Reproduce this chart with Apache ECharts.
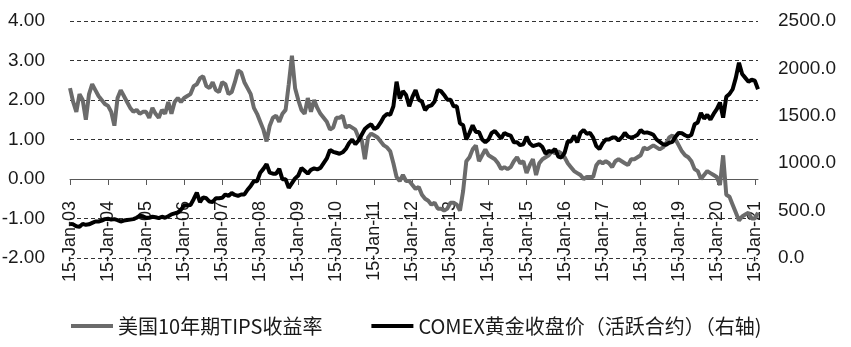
<!DOCTYPE html>
<html>
<head>
<meta charset="utf-8">
<script src="https://cdn.jsdelivr.net/npm/echarts@6/dist/echarts.min.js"></script>
<style>
  html, body { margin: 0; padding: 0; background: #fff; }
  #chart { width: 851px; height: 347px; }
</style>
</head>
<body>
<div id="chart"></div>
<script>
// 月度数据，2003-01 ~ 2021-02
const years = [2003, 2004, 2005, 2006, 2007, 2008, 2009, 2010, 2011, 2012, 2013, 2014, 2015, 2016, 2017, 2018, 2019, 2020, 2021]
const monthNames = ['Jan', 'Feb', 'Mar', 'Apr', 'May', 'Jun', 'Jul', 'Aug', 'Sep', 'Oct', 'Nov', 'Dec']

// 美国10年期TIPS收益率 (%)
const tipsYield = [
  2.30, 1.95, 1.70, 2.15, 2.00, 1.50, 2.15, 2.40, 2.25, 2.10, 2.00, 1.90,
  1.85, 1.70, 1.35, 2.05, 2.25, 2.10, 1.95, 1.80, 1.70, 1.75, 1.65, 1.70,
  1.70, 1.55, 1.80, 1.65, 1.55, 1.75, 1.65, 1.95, 1.65, 1.95, 2.05, 1.95,
  2.05, 2.10, 2.15, 2.35, 2.40, 2.55, 2.60, 2.35, 2.30, 2.45, 2.25, 2.20,
  2.45, 2.40, 2.15, 2.20, 2.45, 2.75, 2.70, 2.45, 2.30, 2.15, 1.80, 1.65,
  1.45, 1.25, 0.95, 1.35, 1.55, 1.60, 1.45, 1.65, 1.75, 2.40, 3.12, 2.30,
  2.00, 1.75, 1.65, 2.05, 1.70, 2.00, 1.80, 1.65, 1.55, 1.45, 1.25, 1.30,
  1.55, 1.55, 1.60, 1.30, 1.35, 1.30, 1.25, 1.05, 1.00, 0.50, 1.05, 1.15,
  1.10, 1.05, 0.95, 0.85, 0.80, 0.70, 0.40, 0.05, -0.05, 0.10, -0.05, -0.05,
  -0.15, -0.25, -0.20, -0.40, -0.50, -0.55, -0.65, -0.60, -0.75, -0.75, -0.80, -0.75,
  -0.60, -0.60, -0.65, -0.80, -0.30, 0.45, 0.55, 0.75, 0.85, 0.45, 0.60, 0.75,
  0.60, 0.55, 0.50, 0.40, 0.25, 0.30, 0.25, 0.30, 0.45, 0.55, 0.40, 0.45,
  0.15, 0.35, 0.50, 0.10, 0.40, 0.50, 0.55, 0.60, 0.70, 0.65, 0.70, 0.65,
  0.55, 0.40, 0.30, 0.20, 0.15, 0.10, 0.00, 0.05, 0.05, 0.05, 0.35, 0.45,
  0.40, 0.45, 0.40, 0.30, 0.45, 0.50, 0.45, 0.40, 0.35, 0.50, 0.50, 0.55,
  0.60, 0.80, 0.75, 0.80, 0.85, 0.80, 0.75, 0.80, 0.90, 1.05, 1.10, 1.00,
  0.85, 0.70, 0.60, 0.55, 0.45, 0.25, 0.20, 0.00, 0.10, 0.20, 0.15, 0.10,
  0.05, -0.15, 0.60, -0.40, -0.45, -0.65, -0.85, -1.05, -0.95, -0.90, -0.85, -1.00,
  -1.00, -0.85
]

// COMEX黄金收盘价（活跃合约），右轴
const goldPrice = [
  360, 355, 335, 330, 360, 350, 355, 370, 385, 385, 395, 410,
  415, 405, 410, 400, 385, 395, 400, 405, 410, 425, 445, 440,
  425, 425, 435, 430, 420, 435, 425, 440, 460, 470, 480, 510,
  555, 555, 560, 620, 690, 590, 640, 630, 595, 590, 630, 630,
  635, 670, 655, 685, 665, 655, 670, 670, 720, 760, 810, 810,
  900, 940, 990, 900, 890, 890, 940, 830, 830, 740, 790, 840,
  870, 950, 920, 890, 930, 945, 935, 950, 1000, 1050, 1140, 1120,
  1110, 1100, 1115, 1150, 1210, 1250, 1200, 1240, 1300, 1360, 1390, 1410,
  1360, 1380, 1430, 1490, 1520, 1510, 1600, 1860, 1680, 1760, 1720, 1600,
  1700, 1770, 1670, 1650, 1560, 1600, 1610, 1650, 1770, 1760, 1720, 1670,
  1670, 1600, 1600, 1420, 1400, 1250, 1320, 1400, 1330, 1330, 1250, 1220,
  1250, 1320, 1340, 1300, 1260, 1320, 1300, 1290, 1220, 1220, 1190, 1200,
  1280, 1210, 1180, 1190, 1200, 1170, 1100, 1130, 1120, 1150, 1070, 1060,
  1110, 1230, 1230, 1290, 1220, 1320, 1350, 1310, 1320, 1270, 1180, 1150,
  1210, 1250, 1250, 1270, 1270, 1240, 1270, 1320, 1280, 1270, 1280, 1300,
  1350, 1320, 1325, 1315, 1300, 1250, 1225, 1200, 1195, 1215, 1225, 1280,
  1320, 1315, 1295, 1280, 1300, 1410, 1430, 1530, 1470, 1510, 1460, 1520,
  1570, 1640, 1480, 1700, 1730, 1780, 1900, 2060, 1940, 1900, 1860, 1880,
  1870, 1780
]

const leftTicks = { min: -2, max: 4, step: 1 }
const rightTicks = { min: 0, max: 2500, step: 500 }

// 类目：15-Jan-03 ...
const categories = []
years.forEach(y => {
  monthNames.forEach(m => {
    if (categories.length < tipsYield.length) {
      categories.push('15-' + m + '-' + String(y).slice(2))
    }
  })
})

const isJan = (idx) => idx % 12 === 0
const latin = 'Arial, "Liberation Sans", sans-serif'

const gridTop = 21
const gridBottom = 89
const plotH = 347 - gridTop - gridBottom
// x轴放在左轴0值处
const zeroOffset = plotH * (0 - leftTicks.min) / (leftTicks.max - leftTicks.min)

const chart = echarts.init(document.getElementById('chart'))
chart.setOption({
  animation: false,
  backgroundColor: '#fff',
  grid: { left: 70, right: 93, top: gridTop, bottom: gridBottom, outerBoundsMode: 'none' },
  legend: {
    left: 66,
    top: 311,
    icon: 'rect',
    itemWidth: 42,
    itemHeight: 4,
    itemGap: 49,
    textStyle: {
      fontSize: 20,
      color: '#1a1a1a',
      fontFamily: '"Noto Sans CJK SC", sans-serif'
    },
    data: ['美国10年期TIPS收益率', 'COMEX黄金收盘价（活跃合约）（右轴)']
  },
  xAxis: {
    type: 'category',
    boundaryGap: false,
    data: categories,
    offset: -zeroOffset,
    axisLine: {
      onZero: false,
      lineStyle: { color: '#595959', width: 1 }
    },
    axisTick: { interval: isJan, length: 6, lineStyle: { color: '#595959' } },
    axisLabel: {
      interval: isJan,
      rotate: 90,
      margin: 22,
      fontSize: 18,
      color: '#1a1a1a',
      fontFamily: latin
    },
    splitLine: { show: false }
  },
  yAxis: [
    {
      type: 'value',
      min: leftTicks.min,
      max: leftTicks.max,
      interval: leftTicks.step,
      axisLine: { show: false },
      axisTick: { show: false },
      axisLabel: {
        margin: 25,
        fontSize: 19,
        color: '#1a1a1a',
        fontFamily: latin,
        formatter: v => v.toFixed(2)
      },
      splitLine: { lineStyle: { color: '#333', type: [4, 3], width: 1 } }
    },
    {
      type: 'value',
      position: 'right',
      min: rightTicks.min,
      max: rightTicks.max,
      interval: rightTicks.step,
      axisLine: { show: false },
      axisTick: { show: false },
      axisLabel: {
        margin: 20,
        fontSize: 19,
        color: '#1a1a1a',
        fontFamily: latin,
        formatter: v => v.toFixed(1)
      },
      splitLine: { show: false }
    }
  ],
  series: [
    {
      name: '美国10年期TIPS收益率',
      type: 'line',
      yAxisIndex: 0,
      data: tipsYield,
      showSymbol: false,
      lineStyle: { color: '#6b6b6b', width: 4 },
      itemStyle: { color: '#6b6b6b' }
    },
    {
      name: 'COMEX黄金收盘价（活跃合约）（右轴)',
      type: 'line',
      yAxisIndex: 1,
      data: goldPrice,
      showSymbol: false,
      lineStyle: { color: '#000', width: 4 },
      itemStyle: { color: '#000' }
    }
  ]
})
</script>
</body>
</html>
